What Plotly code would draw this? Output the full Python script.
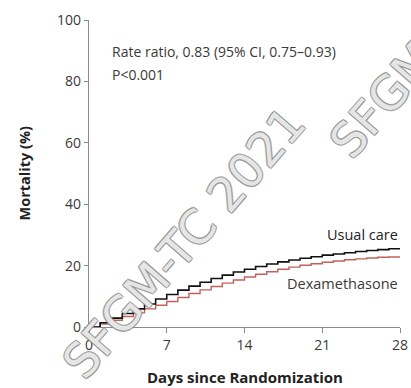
import plotly.graph_objects as go

# Cumulative 28-day mortality (%) by day since randomization
days = list(range(0, 29))
usual_care = [0, 1.4, 2.9, 4.4, 5.9, 7.5, 9.1, 10.6, 12.0, 13.3, 14.6, 15.8, 16.9, 17.9,
              18.8, 19.7, 20.5, 21.2, 21.8, 22.4, 22.9, 23.4, 23.8, 24.2, 24.6, 24.9,
              25.2, 25.5, 25.7]
dexamethasone = [0, 1.0, 2.2, 3.4, 4.6, 5.9, 7.1, 8.3, 9.6, 10.9, 12.1, 13.2, 14.3, 15.3,
                 16.3, 17.2, 18.0, 18.8, 19.5, 20.1, 20.6, 21.1, 21.5, 21.9, 22.2, 22.5,
                 22.7, 22.8, 22.9]

x_ticks = [0, 7, 14, 21, 28]
y_ticks = [0, 20, 40, 60, 80, 100]

FONT = "Open Sans"
AXIS_GRAY = "#8a8a8a"
TEXT = "#3a3a3a"

fig = go.Figure()
fig.add_trace(go.Scatter(x=days, y=dexamethasone, mode="lines", line_shape="hv",
                         line=dict(color="#c0615a", width=1.4), name="Dexamethasone"))
fig.add_trace(go.Scatter(x=days, y=usual_care, mode="lines", line_shape="hv",
                         line=dict(color="#111111", width=1.6), name="Usual care"))

annotations = [
    dict(x=1.9, y=89.9, xref="x", yref="y", xanchor="left", yanchor="middle",
         text="Rate ratio, 0.83 (95% CI, 0.75\u20130.93)", showarrow=False,
         font=dict(family=FONT, size=14, color=TEXT)),
    dict(x=1.9, y=82.3, xref="x", yref="y", xanchor="left", yanchor="middle",
         text="P<0.001", showarrow=False, font=dict(family=FONT, size=14, color=TEXT)),
    dict(x=28, y=30.0, xref="x", yref="y", xanchor="right", yanchor="middle",
         text="Usual care", showarrow=False, font=dict(family=FONT, size=14.5, color="#222")),
    dict(x=28, y=14.3, xref="x", yref="y", xanchor="right", yanchor="middle",
         text="Dexamethasone", showarrow=False, font=dict(family=FONT, size=14.5, color=TEXT)),
    # axis titles
    dict(x=0.5, y=-0.162, xref="paper", yref="paper", xanchor="center", yanchor="middle",
         text="<b>Days since Randomization</b>", showarrow=False,
         font=dict(family=FONT, size=15, color="#222")),
    dict(x=-0.206, y=0.5, xref="paper", yref="paper", xanchor="center", yanchor="middle",
         text="<b>Mortality (%)</b>", showarrow=False, textangle=-90,
         font=dict(family=FONT, size=14.5, color="#222")),
]

# Diagonal outlined watermark, repeated
wm_font = dict(family="DejaVu Sans", size=47, color="rgba(255,255,255,0.8)",
               shadow="1px 1px 0 #8c8c8c, -1px -1px 0 #8c8c8c, 1px -1px 0 #8c8c8c, -1px 1px 0 #8c8c8c")
for wx, wy in [(0.305, 0.275), (1.165, 0.995)]:
    annotations.append(dict(x=wx, y=wy, xref="paper", yref="paper", text="SFGM-TC 2021",
                            showarrow=False, textangle=-49, font=wm_font,
                            xanchor="center", yanchor="middle"))

fig.update_layout(
    width=411, height=388,
    margin=dict(l=89, r=11, t=20, b=61),
    paper_bgcolor="white", plot_bgcolor="white",
    showlegend=False,
    annotations=annotations,
    xaxis=dict(range=[0, 28], tickvals=x_ticks, ticktext=[str(v) for v in x_ticks],
               showgrid=False, zeroline=False, showline=True, linecolor=AXIS_GRAY,
               linewidth=1.3, ticks="outside", ticklen=5, tickcolor=AXIS_GRAY,
               automargin=False,
               tickfont=dict(family=FONT, size=14, color=TEXT)),
    yaxis=dict(range=[0, 100], tickvals=y_ticks, ticktext=[str(v) for v in y_ticks],
               showgrid=False, zeroline=False, showline=True, linecolor=AXIS_GRAY,
               linewidth=1.3, ticks="outside", ticklen=4, tickcolor=AXIS_GRAY,
               automargin=False,
               tickfont=dict(family=FONT, size=14, color=TEXT)),
)

fig.write_html("out.html")
